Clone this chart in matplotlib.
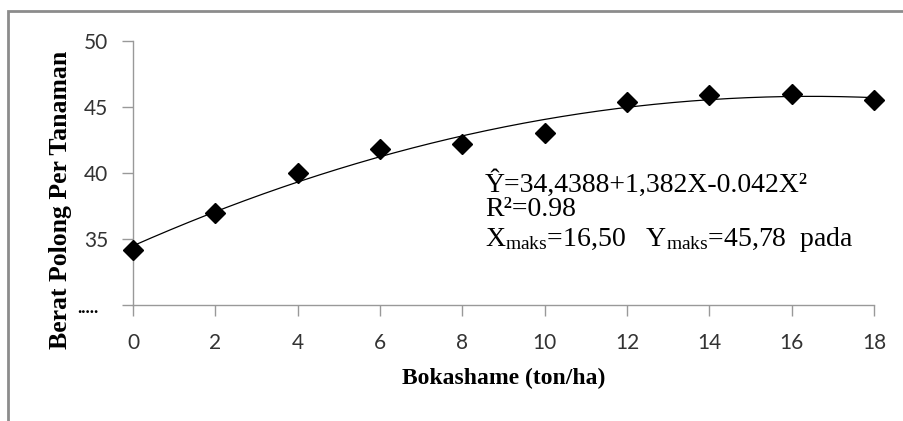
import matplotlib.pyplot as plt
import matplotlib.patches as mpatches
import numpy as np

# data
dosis = [0, 2, 4, 6, 8, 10, 12, 14, 16, 18]
berat = [34.2, 37.0, 40.0, 41.8, 42.2, 43.0, 45.4, 45.9, 46.0, 45.5]
x_ticks = [0, 2, 4, 6, 8, 10, 12, 14, 16, 18]
y_ticks = [35, 40, 45, 50]

plt.rcParams['mathtext.fontset'] = 'custom'
plt.rcParams['mathtext.rm'] = 'Liberation Serif'
plt.rcParams['mathtext.it'] = 'Liberation Serif:italic'

W, H = 904, 421
fig = plt.figure(figsize=(W / 100, H / 100), dpi=100)
ax = fig.add_axes([133 / W, 1 - 305 / H, (874 - 133) / W, (305 - 41) / H])

# quadratic trend line (Excel style)
coef = np.polyfit(dosis, berat, 2)
xs = np.linspace(min(dosis), max(dosis), 200)
ax.plot(xs, np.polyval(coef, xs), color='black', lw=0.9, zorder=2)
ax.plot(dosis, berat, linestyle='none', marker='D', ms=10, color='black',
        zorder=3, clip_on=False)

ax.set_xlim(0, 18)
ax.set_ylim(30, 50)
ax.set_xticks(x_ticks)
ax.set_yticks(y_ticks + [30])
ax.set_yticklabels([str(v) for v in y_ticks] + [''])
for lab in ax.get_xticklabels() + ax.get_yticklabels():
    lab.set_family('Lato')
    lab.set_fontsize(15)
    lab.set_color('#333333')

for side in ['top', 'right']:
    ax.spines[side].set_visible(False)
for side in ['left', 'bottom']:
    ax.spines[side].set_color('#999999')
    ax.spines[side].set_linewidth(1.0)
ax.tick_params(axis='both', direction='out', length=8, width=1.0, color='#999999')
ax.tick_params(axis='x', pad=12)
ax.tick_params(axis='y', pad=10)

ax.set_xlabel('Bokashame (ton/ha)', family='Liberation Serif', fontweight='bold',
              fontsize=17)
ax.xaxis.set_label_coords(0.5, -(378 - 305) / 264, transform=ax.transAxes)
ax.xaxis.label.set_va('center')
ax.set_ylabel('Berat Polong Per Tanaman', family='Liberation Serif', fontweight='bold',
              fontsize=18.5)
ax.yaxis.set_label_coords((60 - 133) / 741, (305 - 200) / 264, transform=ax.transAxes)
ax.yaxis.label.set_va('center')

fig.text(77 / W, 1 - 309 / H, '.....', family='Liberation Serif', fontweight='bold',
         fontsize=12, va='center', ha='left')

tx = 485 / W
fig.text(tx, 1 - 192 / H, '\u0176=34,4388+1,382X-0.042X\u00b2', family='Liberation Serif',
         fontsize=20, va='baseline')
fig.text(tx, 1 - 216 / H, 'R\u00b2=0.98', family='Liberation Serif',
         fontsize=20, va='baseline')
fig.text(tx, 1 - 246 / H, r'X$_{\mathrm{maks}}$=16,50   Y$_{\mathrm{maks}}$=45,78  pada',
         family='Liberation Serif', fontsize=20, va='baseline')

# outer frame of the chart area
frame = mpatches.Rectangle((8 / W, -0.05), 1.1, 1 - 11 / H + 0.05, transform=fig.transFigure,
                           fill=False, edgecolor='#8c8c8c', lw=2.0)
fig.patches.append(frame)

plt.savefig('out.png', dpi=100)
